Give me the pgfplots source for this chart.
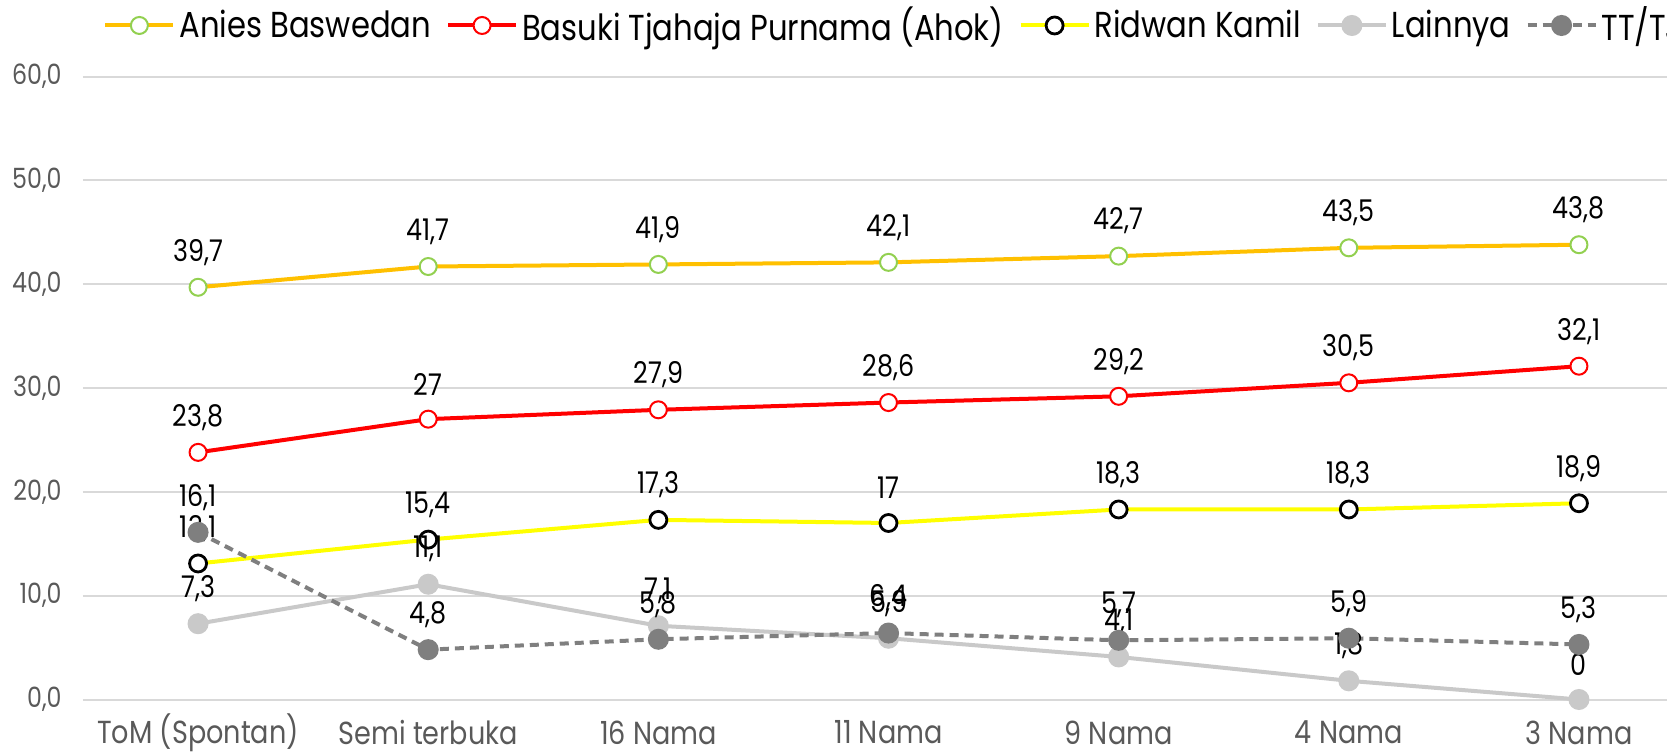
\documentclass[border=0pt]{standalone}
\usepackage{pgfplots}
\pgfplotsset{compat=1.18}
\usepackage{fontspec}
\setmainfont{Poppins}[FakeStretch=0.85]
\definecolor{cAnies}{HTML}{FFC000}
\definecolor{cAniesM}{HTML}{92D050}
\definecolor{cAhok}{HTML}{FF0000}
\definecolor{cRidwan}{HTML}{FFFF00}
\definecolor{cLain}{HTML}{C9C9C9}
\definecolor{cTT}{HTML}{7F7F7F}
\definecolor{cGrid}{HTML}{D9D9D9}
\definecolor{cTick}{HTML}{595959}
\begin{document}
\begin{tikzpicture}
\useasboundingbox (0,0) rectangle (833.5bp,377bp);
\clip (0,0) rectangle (833.5bp,377bp);
\begin{axis}[
  at={(41.5bp,27.25bp)}, anchor=south west,
  scale only axis, width=805.5bp, height=311.5bp,
  xmin=-0.5, xmax=6.5, ymin=0, ymax=60,
  clip=false,
  axis line style={draw=none},
  major tick length=0pt,
  xtick={0,...,6},
  xticklabels={ToM (Spontan),Semi terbuka,16 Nama,11 Nama,9 Nama,4 Nama,3 Nama},
  ytick={0,10,...,60},
  ymajorgrids, grid style={cGrid, line width=1bp},
  yticklabel style={/pgf/number format/fixed, /pgf/number format/fixed zerofill, /pgf/number format/precision=1, /pgf/number format/use comma, /pgf/number format/assume math mode=true,
    font=\fontsize{14}{16}\selectfont, color=cTick, anchor=east, inner sep=0pt, xshift=-10.5bp},
  xticklabel style={font=\fontsize{16}{18}\selectfont, color=cTick, anchor=center, inner sep=0pt, yshift=-16.5bp},
  every node near coord/.append style={font=\fontsize{15}{17}\selectfont, color=black, anchor=center, yshift=17.5bp, /pgf/number format/use comma, /pgf/number format/1000 sep={}, /pgf/number format/assume math mode=true},
  nodes near coords,
  legend columns=-1,
  legend style={at={(axis description cs:0.0124,1.0819)}, anchor=west, draw=none, fill=none, inner sep=0pt,
    font=\fontsize{18.1}{20}\selectfont,
    /tikz/every even column/.append style={column sep=5.5bp}},
  legend image code/.code={\draw[mark repeat=2,mark phase=2,#1] plot coordinates {(0bp,0bp) (17bp,0bp) (34bp,0bp)};},
  mark size=4.25bp,
]
\addplot[cAnies, line width=2bp, mark=*, mark options={solid, draw=cAniesM, fill=white, line width=1bp}]
  coordinates {(0,39.7) (1,41.7) (2,41.9) (3,42.1) (4,42.7) (5,43.5) (6,43.8)};
\addlegendentry{Anies Baswedan}
\addplot[cAhok, line width=2bp, mark=*, mark options={solid, draw=cAhok, fill=white, line width=1bp}]
  coordinates {(0,23.8) (1,27) (2,27.9) (3,28.6) (4,29.2) (5,30.5) (6,32.1)};
\addlegendentry{Basuki Tjahaja Purnama (Ahok)}
\addplot[cRidwan, line width=2bp, mark=*, mark options={solid, draw=black, fill=white, line width=1.4bp}]
  coordinates {(0,13.1) (1,15.4) (2,17.3) (3,17) (4,18.3) (5,18.3) (6,18.9)};
\addlegendentry{Ridwan Kamil}
\addplot[cLain, line width=2bp, mark=*, mark options={solid, draw=cLain, fill=cLain}]
  coordinates {(0,7.3) (1,11.1) (2,7.1) (3,5.9) (4,4.1) (5,1.8) (6,0)};
\addlegendentry{Lainnya}
\addplot[cTT, line width=2bp, dash pattern=on 4.5bp off 3bp, mark=*, mark options={solid, draw=cTT, fill=cTT}]
  coordinates {(0,16.1) (1,4.8) (2,5.8) (3,6.4) (4,5.7) (5,5.9) (6,5.3)};
\addlegendentry{TT/TJ}
\end{axis}
\end{tikzpicture}
\end{document}
